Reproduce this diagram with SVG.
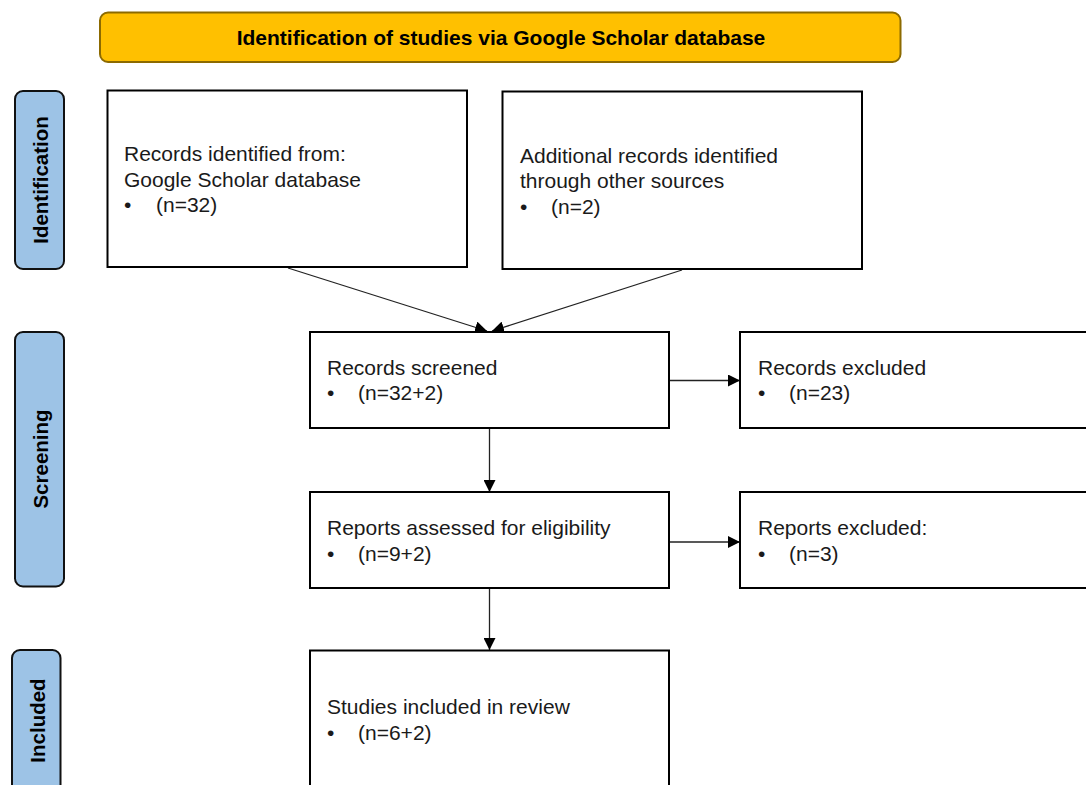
<svg xmlns="http://www.w3.org/2000/svg" width="1086" height="785" viewBox="0 0 1086 785">
<defs>
<style>
.box{fill:#fff;stroke:#000;stroke-width:2}
.side{fill:#9DC3E6;stroke:#111;stroke-width:2}
.t{font-family:"Liberation Sans",Arial,sans-serif;font-size:21px;fill:#1a1a1a}
.b{font-family:"Liberation Sans",Arial,sans-serif;font-size:21px;font-weight:bold;fill:#000}
.s{font-family:"Liberation Sans",Arial,sans-serif;font-size:20.5px;font-weight:bold;fill:#000}
.c{fill:none;stroke:#222;stroke-width:1.3}
</style>
<marker id="ah" viewBox="0 0 12 12" refX="12" refY="6" markerWidth="12" markerHeight="12" markerUnits="userSpaceOnUse" orient="auto">
<path d="M0,0 L12,6 L0,12 Z" fill="#000"/>
</marker>
</defs>
<rect width="1086" height="785" fill="#fff"/>

<g id="banner">
<rect x="100" y="12.5" width="800.5" height="49.5" rx="8" fill="#FFC000" stroke="#8C6A00" stroke-width="2"/>
<text class="b" x="501" y="45" text-anchor="middle">Identification of studies via Google Scholar database</text>
</g>

<g id="phase-identification">
<rect class="side" x="15" y="91" width="49" height="178" rx="8"/>
<text class="s" transform="translate(48,180) rotate(-90)" text-anchor="middle">Identification</text>
</g>
<g id="phase-screening">
<rect class="side" x="15" y="332" width="49" height="254.5" rx="8"/>
<text class="s" transform="translate(48,459) rotate(-90)" text-anchor="middle">Screening</text>
</g>
<g id="phase-included">
<rect class="side" x="12" y="650" width="48.5" height="150" rx="8"/>
<text class="s" transform="translate(44.5,720.5) rotate(-90)" text-anchor="middle">Included</text>
</g>

<g id="connectors">
<line class="c" x1="288" y1="268" x2="487" y2="331" marker-end="url(#ah)"/>
<line class="c" x1="682" y1="270" x2="492" y2="331" marker-end="url(#ah)"/>
<line class="c" x1="669" y1="380.5" x2="740" y2="380.5" marker-end="url(#ah)"/>
<line class="c" x1="489.5" y1="428" x2="489.5" y2="492" marker-end="url(#ah)"/>
<line class="c" x1="669" y1="542" x2="740" y2="542" marker-end="url(#ah)"/>
<line class="c" x1="489.5" y1="588" x2="489.5" y2="650" marker-end="url(#ah)"/>
</g>

<g id="records-identified">
<rect class="box" x="107.5" y="90.5" width="359.5" height="176.5"/>
<text class="t" x="124" y="161">Records identified from:</text>
<text class="t" x="124" y="186.5">Google Scholar database</text>
<text class="t" x="124" y="212">•</text>
<text class="t" x="156" y="212">(n=32)</text>
</g>

<g id="additional-records">
<rect class="box" x="502.5" y="91.5" width="359.5" height="177.5"/>
<text class="t" x="520" y="162.5">Additional records identified</text>
<text class="t" x="520" y="188">through other sources</text>
<text class="t" x="520" y="213.5">•</text>
<text class="t" x="551" y="213.5">(n=2)</text>
</g>

<g id="records-screened">
<rect class="box" x="310" y="332" width="359" height="96"/>
<text class="t" x="327" y="374.5">Records screened</text>
<text class="t" x="327" y="400">•</text>
<text class="t" x="358" y="400">(n=32+2)</text>
</g>

<g id="records-excluded">
<rect class="box" x="740" y="332" width="360" height="96"/>
<text class="t" x="758" y="374.5">Records excluded</text>
<text class="t" x="758" y="400">•</text>
<text class="t" x="789" y="400">(n=23)</text>
</g>

<g id="reports-assessed">
<rect class="box" x="310" y="492" width="359" height="96"/>
<text class="t" x="327" y="535">Reports assessed for eligibility</text>
<text class="t" x="327" y="560.5">•</text>
<text class="t" x="358" y="560.5">(n=9+2)</text>
</g>

<g id="reports-excluded">
<rect class="box" x="740" y="492" width="360" height="96"/>
<text class="t" x="758" y="535">Reports excluded:</text>
<text class="t" x="758" y="560.5">•</text>
<text class="t" x="789" y="560.5">(n=3)</text>
</g>

<g id="studies-included">
<rect class="box" x="310" y="650.5" width="359" height="150"/>
<text class="t" x="327" y="714">Studies included in review</text>
<text class="t" x="327" y="739.5">•</text>
<text class="t" x="358" y="739.5">(n=6+2)</text>
</g>
</svg>
